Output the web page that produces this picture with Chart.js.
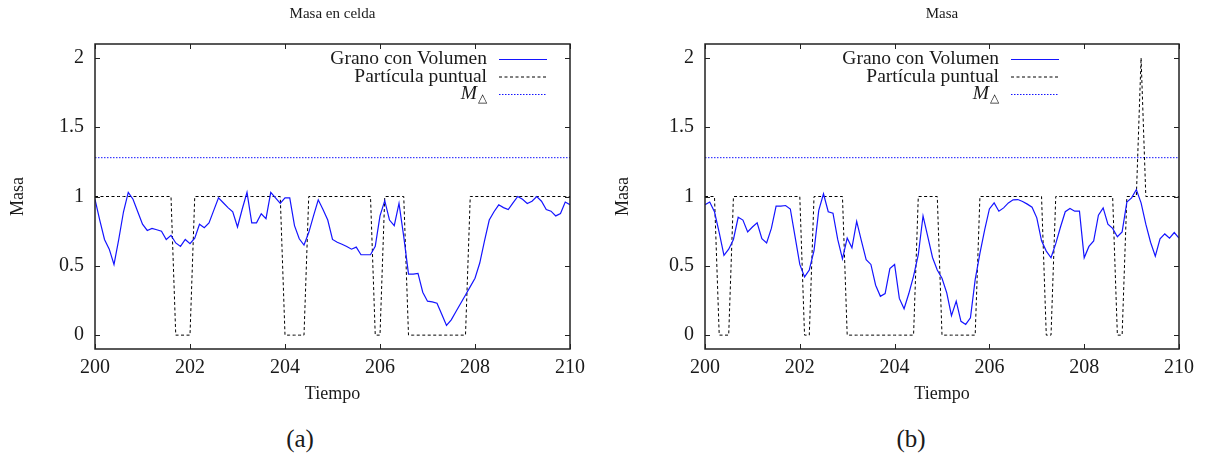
<!DOCTYPE html>
<html>
<head>
<meta charset="utf-8">
<script src="https://cdn.jsdelivr.net/npm/chart.js@4.4.0/dist/chart.umd.min.js"></script>
<style>
body { margin: 0; background: #fff; width: 1211px; height: 457px; position: relative; overflow: hidden; font-family: "Liberation Serif", serif; }
.panel { position: absolute; top: 0; height: 410px; }
#pa { left: 0; width: 605px; }
#pb { left: 605px; width: 606px; }
.cap { position: absolute; top: 425px; width: 80px; text-align: center; font-size: 25px; color: #1a1a1a; }
</style>
</head>
<body>
<div class="panel" id="pa"><canvas id="chartA"></canvas></div>
<div class="panel" id="pb"><canvas id="chartB"></canvas></div>
<div class="cap" style="left:260px">(a)</div>
<div class="cap" style="left:871px">(b)</div>
<script>
// eje de tiempo (muestreo cada 0.1)
var tiempo = [200.0,200.1,200.2,200.3,200.4,200.5,200.6,200.7,200.8,200.9,
  201.0,201.1,201.2,201.3,201.4,201.5,201.6,201.7,201.8,201.9,
  202.0,202.1,202.2,202.3,202.4,202.5,202.6,202.7,202.8,202.9,
  203.0,203.1,203.2,203.3,203.4,203.5,203.6,203.7,203.8,203.9,
  204.0,204.1,204.2,204.3,204.4,204.5,204.6,204.7,204.8,204.9,
  205.0,205.1,205.2,205.3,205.4,205.5,205.6,205.7,205.8,205.9,
  206.0,206.1,206.2,206.3,206.4,206.5,206.6,206.7,206.8,206.9,
  207.0,207.1,207.2,207.3,207.4,207.5,207.6,207.7,207.8,207.9,
  208.0,208.1,208.2,208.3,208.4,208.5,208.6,208.7,208.8,208.9,
  209.0,209.1,209.2,209.3,209.4,209.5,209.6,209.7,209.8,209.9,210.0];

var tiemposTicks = [200, 202, 204, 206, 208, 210];
var masaTicks = [0, 0.5, 1, 1.5, 2];
var masaTickLabels = ["0", "0.5", "1", "1.5", "2"];

var mDelta = 1.28;

// (a) Masa en celda
var granoCelda = [0.98,0.83,0.69,0.62,0.51,0.69,0.89,1.03,0.98,0.89,
  0.80,0.755,0.77,0.76,0.75,0.69,0.72,0.665,0.64,0.69,
  0.66,0.70,0.80,0.775,0.81,0.90,0.99,0.955,0.92,0.89,
  0.78,0.91,1.03,0.81,0.81,0.875,0.84,1.03,0.99,0.95,
  0.99,0.99,0.79,0.695,0.65,0.74,0.86,0.976,0.906,0.83,
  0.69,0.67,0.656,0.64,0.62,0.635,0.58,0.58,0.58,0.64,
  0.86,0.97,0.83,0.79,0.95,0.71,0.44,0.44,0.445,0.31,
  0.245,0.24,0.23,0.15,0.07,0.11,0.17,0.23,0.29,0.35,
  0.41,0.52,0.68,0.83,0.89,0.94,0.92,0.906,0.954,1.0,
  0.98,0.95,0.966,1.0,0.966,0.906,0.894,0.86,0.877,0.96,0.94];
var puntualCelda = [1,1,1,1,1,1,1,1,1,1,
  1,1,1,1,1,1,1,0,0,0,
  0,1,1,1,1,1,1,1,1,1,
  1,1,1,1,1,1,1,1,1,1,
  0,0,0,0,0,1,1,1,1,1,
  1,1,1,1,1,1,1,1,1,0,
  0,1,1,1,1,1,0,0,0,0,
  0,0,0,0,0,0,0,0,0,1,
  1,1,1,1,1,1,1,1,1,1,
  1,1,1,1,1,1,1,1,1,1,1];

// (b) Masa
var granoMasa = [0.94,0.96,0.89,0.74,0.575,0.62,0.69,0.85,0.83,0.745,
  0.78,0.81,0.695,0.665,0.77,0.93,0.93,0.935,0.91,0.71,
  0.51,0.42,0.47,0.61,0.90,1.02,0.89,0.88,0.69,0.55,
  0.70,0.63,0.82,0.68,0.545,0.51,0.36,0.28,0.30,0.48,
  0.51,0.265,0.19,0.30,0.425,0.58,0.86,0.71,0.56,0.47,
  0.41,0.305,0.14,0.245,0.10,0.077,0.125,0.40,0.59,0.76,
  0.91,0.954,0.894,0.918,0.954,0.976,0.978,0.964,0.945,0.923,
  0.846,0.68,0.606,0.558,0.66,0.78,0.89,0.913,0.894,0.894,
  0.558,0.64,0.68,0.865,0.918,0.80,0.77,0.71,0.745,0.96,
  0.99,1.05,0.954,0.80,0.67,0.57,0.695,0.73,0.70,0.74,0.70];
var puntualMasa = [1,1,1,0,0,0,1,1,1,1,
  1,1,1,1,1,1,1,1,1,1,
  1,0,0,1,1,1,1,1,1,1,
  0,0,0,0,0,0,0,0,0,0,
  0,0,0,0,0,1,1,1,1,1,
  0,0,0,0,0,0,0,0,1,1,
  1,1,1,1,1,1,1,1,1,1,
  1,1,0,0,1,1,1,1,1,1,
  1,1,1,1,1,1,1,0,0,1,
  1,1,2,1,1,1,1,1,1,1,1];

var FUENTE = "'Liberation Serif', 'Times New Roman', serif";
var TINTA = "#1a1a1a";

function puntos(ys) {
  return ys.map(function (v, i) { return { x: tiempo[i], y: v }; });
}

// marco, marcas hacia dentro, titulo y leyenda al estilo gnuplot
var marco = {
  id: "marco",
  afterDraw: function (chart, args, opts) {
    var ctx = chart.ctx, a = chart.chartArea;
    var sx = chart.scales.x, sy = chart.scales.y;
    ctx.save();
    ctx.strokeStyle = "#222";
    ctx.lineWidth = 1;
    ctx.setLineDash([]);
    sx.ticks.forEach(function (t) {
      var px = Math.round(sx.getPixelForValue(t.value)) + 0.5;
      ctx.beginPath();
      ctx.moveTo(px, a.bottom); ctx.lineTo(px, a.bottom - 5);
      ctx.moveTo(px, a.top); ctx.lineTo(px, a.top + 5);
      ctx.stroke();
    });
    sy.ticks.forEach(function (t) {
      var py = Math.round(sy.getPixelForValue(t.value)) + 0.5;
      ctx.beginPath();
      ctx.moveTo(a.left, py); ctx.lineTo(a.left + 5, py);
      ctx.moveTo(a.right, py); ctx.lineTo(a.right - 5, py);
      ctx.stroke();
    });
    ctx.lineWidth = 1.5;
    ctx.strokeRect(a.left, a.top, a.right - a.left, a.bottom - a.top);

    // titulo
    ctx.fillStyle = TINTA;
    ctx.font = "15px " + FUENTE;
    ctx.textAlign = "center";
    ctx.textBaseline = "middle";
    ctx.fillText(opts.titulo, (a.left + a.right) / 2, 14);

    // leyenda
    var xl = opts.leyendaX, filas = [59, 76.5, 94];
    ctx.font = "19.5px " + FUENTE;
    ctx.textAlign = "right";
    chart.data.datasets.forEach(function (ds, i) {
      var yy = filas[i];
      ctx.fillStyle = TINTA;
      if (ds.label === "M\u25B3") {
        ctx.font = "12px " + FUENTE;
        ctx.fillText("\u25B3", xl, yy + 5);
        var w = ctx.measureText("\u25B3").width;
        ctx.font = "italic 19.5px " + FUENTE;
        ctx.fillText("M", xl - w - 1, yy);
        ctx.font = "19.5px " + FUENTE;
      } else {
        ctx.fillText(ds.label, xl, yy);
      }
      ctx.strokeStyle = ds.borderColor;
      ctx.lineWidth = ds.borderWidth;
      ctx.setLineDash(ds.borderDash || []);
      ctx.beginPath();
      ctx.moveTo(xl + 12, yy + 0.5);
      ctx.lineTo(xl + 60, yy + 0.5);
      ctx.stroke();
    });
    ctx.restore();
  }
};

function crearGrafico(id, grano, puntual, titulo, anchoY, padDer, leyendaX) {
  return new Chart(id, {
    type: "line",
    data: {
      datasets: [{
        label: "Grano con Volumen",
        data: puntos(grano),
        borderColor: "#1414ff",
        borderWidth: 1.2,
        pointRadius: 0
      }, {
        label: "Part\u00EDcula puntual",
        data: puntos(puntual),
        borderColor: "#000000",
        borderWidth: 1,
        borderDash: [3, 2.5],
        pointRadius: 0
      }, {
        label: "M\u25B3",
        data: [{ x: tiempo[0], y: mDelta }, { x: tiempo[tiempo.length - 1], y: mDelta }],
        borderColor: "#1414ff",
        borderWidth: 1,
        borderDash: [1.5, 1.5],
        pointRadius: 0
      }]
    },
    options: {
      responsive: true,
      maintainAspectRatio: false,
      animation: false,
      layout: { padding: { top: 44, right: padDer, left: 0, bottom: 0 } },
      plugins: {
        legend: { display: false },
        title: { display: false },
        tooltip: { enabled: false },
        marco: { titulo: titulo, leyendaX: leyendaX }
      },
      scales: {
        x: {
          type: "linear",
          min: 200,
          max: 210,
          afterBuildTicks: function (s) { s.ticks = tiemposTicks.map(function (v) { return { value: v }; }); },
          afterFit: function (s) { s.height = 61; },
          grid: { display: false, drawTicks: false },
          border: { display: false },
          ticks: { color: TINTA, font: { family: FUENTE, size: 20 }, padding: 7, maxRotation: 0 },
          title: { display: true, text: "Tiempo", color: TINTA, font: { family: FUENTE, size: 18 }, padding: { top: 0, bottom: 5 } }
        },
        y: {
          min: -0.1,
          max: 2.1,
          afterBuildTicks: function (s) { s.ticks = masaTicks.map(function (v) { return { value: v }; }); },
          afterFit: function (s) { s.width = anchoY; },
          grid: { display: false, drawTicks: false },
          border: { display: false },
          ticks: {
            color: TINTA, font: { family: FUENTE, size: 20 }, padding: 11,
            callback: function (v) { return masaTickLabels[masaTicks.indexOf(v)]; }
          },
          title: { display: true, text: "Masa", color: TINTA, font: { family: FUENTE, size: 18 }, padding: { top: 7, bottom: 0 } }
        }
      }
    },
    plugins: [marco]
  });
}

crearGrafico("chartA", granoCelda, puntualCelda, "Masa en celda", 95, 35, 487);
crearGrafico("chartB", granoMasa, puntualMasa, "Masa", 100, 32, 394);
</script>
</body>
</html>
